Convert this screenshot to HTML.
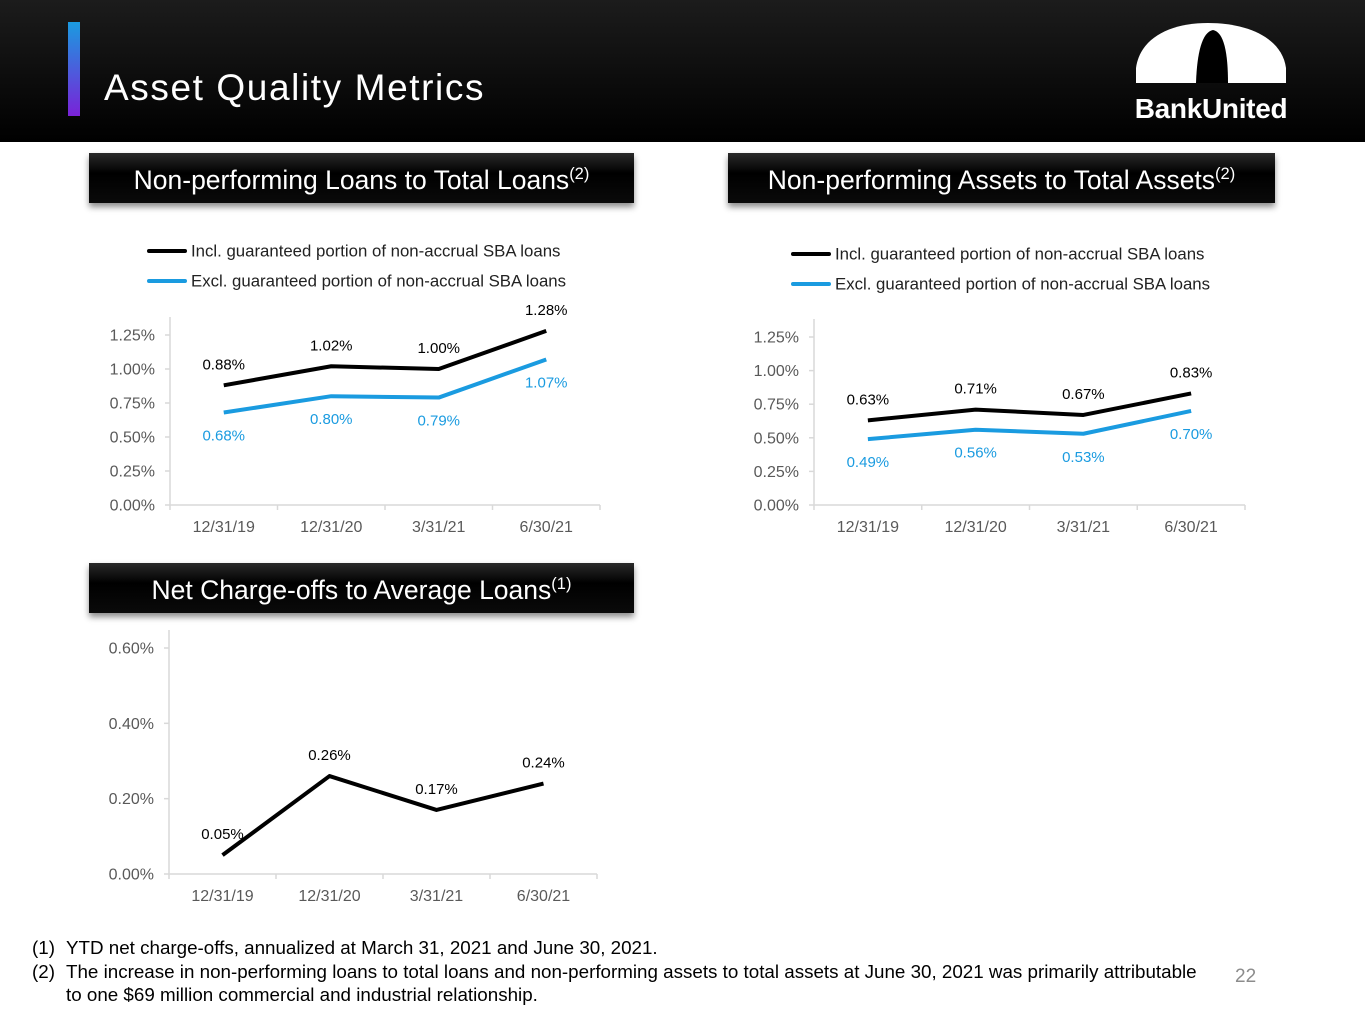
<!DOCTYPE html>
<html><head><meta charset="utf-8">
<style>
body{margin:0;width:1365px;height:1024px;position:relative;background:#fff;font-family:"Liberation Sans",Arial,sans-serif;overflow:hidden}
.hdr{position:absolute;left:0;top:0;width:1365px;height:142px;background:linear-gradient(#1c1c1c,#000)}
.bar{position:absolute;left:68px;top:22px;width:12px;height:94px;background:linear-gradient(#1a9be0,#7a22d8)}
.title{position:absolute;left:104px;top:67px;font-size:37px;color:#fff;letter-spacing:1.6px}
.box{position:absolute;height:50px;background:linear-gradient(#2a2a2a,#000 40%,#0a0a0a);box-shadow:0 4px 6px rgba(0,0,0,.45);color:#fff;font-size:26.5px;text-align:center;line-height:54px;white-space:nowrap}
.box sup{font-size:16.5px;vertical-align:10px;line-height:0}
.fn{position:absolute;left:32px;font-size:18.8px;color:#000;line-height:23px}
.fn span{position:absolute;left:34px;white-space:nowrap}
svg text{font-family:"Liberation Sans",Arial,sans-serif}
</style></head><body>
<div class="hdr"></div>
<div class="bar"></div>
<div class="title">Asset Quality Metrics</div>
<svg style="position:absolute;left:1130px;top:18px" width="165" height="110">
<path d="M6 65 L6 50 C10 20 40 5 78 5 C118 5 152 20 156 50 L156 65 Z" fill="#fff"/>
<path d="M66 65 C67 35 72 14 83 12 C94 14 98 35 98 65 Z" fill="#000"/>
<text x="81" y="100" fill="#fff" font-size="28" font-weight="bold" text-anchor="middle" letter-spacing="-0.3">BankUnited</text>
</svg>
<div class="box" style="left:89px;top:153px;width:545px">Non-performing Loans to Total Loans<sup>(2)</sup></div>
<div class="box" style="left:728px;top:153px;width:547px">Non-performing Assets to Total Assets<sup>(2)</sup></div>
<div class="box" style="left:89px;top:563px;width:545px">Net Charge-offs to Average Loans<sup>(1)</sup></div>
<svg id="charts" style="position:absolute;left:0;top:0" width="1365" height="1024"></svg>
<div class="fn" style="top:936px">(1)<span>YTD net charge-offs, annualized at March 31, 2021 and June 30, 2021.</span></div>
<div class="fn" style="top:960px">(2)<span>The increase in non-performing loans to total loans and non-performing assets to total assets at June 30, 2021 was primarily attributable<br>to one $69 million commercial and industrial relationship.</span></div>
<div style="position:absolute;left:1235px;top:966px;font-size:19px;color:#8c8c8c">22</div>
<script>
const categories=["12/31/19","12/31/20","3/31/21","6/30/21"];
const nplIncl=[0.88,1.02,1.00,1.28];
const nplExcl=[0.68,0.80,0.79,1.07];
const npaIncl=[0.63,0.71,0.67,0.83];
const npaExcl=[0.49,0.56,0.53,0.70];
const ncoVals=[0.05,0.26,0.17,0.24];
const ticks125=[0,0.25,0.5,0.75,1.0,1.25];
const ticks06=[0,0.2,0.4,0.6];
const legendLabels=["Incl. guaranteed portion of non-accrual SBA loans","Excl. guaranteed portion of non-accrual SBA loans"];
const NS="http://www.w3.org/2000/svg";
const svg=document.getElementById('charts');
function mk(t,a,txt){const e=document.createElementNS(NS,t);for(const k in a)e.setAttribute(k,a[k]);if(txt!=null)e.textContent=txt;svg.appendChild(e);return e;}
function chart(c){
  const n=categories.length,bw=(c.x1-c.x0)/n;
  const xs=i=>c.x0+bw*(i+0.5);
  const ys=v=>c.y0-(v-c.vmin)/(c.vmax-c.vmin)*(c.y0-c.ytop);
  let e=mk('line',{x1:c.x0,y1:c.ytop-18,x2:c.x0,y2:c.y0,stroke:'#d9d9d9','stroke-width':1.5});
  
  e=mk('line',{x1:c.x0,y1:c.y0,x2:c.x1,y2:c.y0,stroke:'#d9d9d9','stroke-width':1.5});
  
  c.ticks.forEach(t=>{
    mk('line',{x1:c.x0-5,y1:ys(t),x2:c.x0,y2:ys(t),stroke:'#d9d9d9','stroke-width':1.5});
    e=mk('text',{x:c.x0-15,y:ys(t)+5.5,'font-size':16,fill:'#595959','text-anchor':'end'},t.toFixed(2)+'%');
    
  });
  for(let i=0;i<=n;i++)mk('line',{x1:c.x0+bw*i,y1:c.y0,x2:c.x0+bw*i,y2:c.y0+5,stroke:'#d9d9d9','stroke-width':1.5});
  categories.forEach((cat,i)=>{
    e=mk('text',{x:xs(i),y:c.y0+27,'font-size':16,fill:'#595959','text-anchor':'middle'},cat);
    
  });
  c.series.forEach((s,si)=>{
    e=mk('polyline',{points:s.vals.map((v,i)=>xs(i)+','+ys(v)).join(' '),fill:'none',stroke:s.color,'stroke-width':4,'stroke-linejoin':'round'});
    
    s.vals.forEach((v,i)=>{
      const off=s.below?28:-16;
      e=mk('text',{x:xs(i),y:ys(v)+off,'font-size':15,fill:s.color,'text-anchor':'middle'},v.toFixed(2)+'%');
      
    });
    if(c.legend){
      const ly=c.legend.y+si*30;
      e=mk('line',{x1:c.legend.x,y1:ly,x2:c.legend.x+36,y2:ly,stroke:s.color,'stroke-width':4,'stroke-linecap':'round'});
      
      e=mk('text',{x:c.legend.x+42,y:ly+5.5,'font-size':16.8,fill:'#222'},legendLabels[si]);
      
    }
  });
}
chart({x0:170,x1:600,y0:505,ytop:335,vmin:0,vmax:1.25,ticks:ticks125,legend:{x:149,y:251},
  series:[{vals:nplIncl,color:'#000'},{vals:nplExcl,color:'#1a9be0',below:true}]});
chart({x0:814,x1:1245,y0:505,ytop:337,vmin:0,vmax:1.25,ticks:ticks125,legend:{x:793,y:254},
  series:[{vals:npaIncl,color:'#000'},{vals:npaExcl,color:'#1a9be0',below:true}]});
chart({x0:169,x1:597,y0:874,ytop:648,vmin:0,vmax:0.6,ticks:ticks06,
  series:[{vals:ncoVals,color:'#000'}]});
</script>
</body></html>
